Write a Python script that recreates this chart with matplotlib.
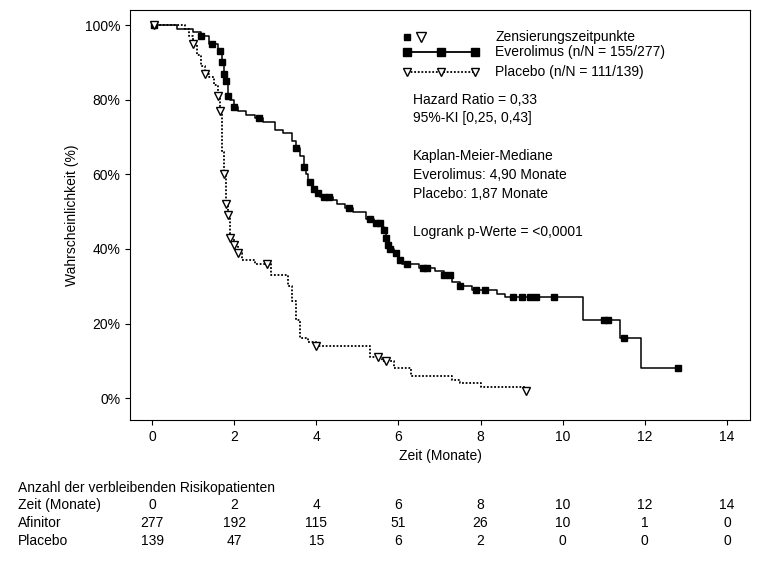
import matplotlib
matplotlib.use('Agg')
import matplotlib.pyplot as plt
import numpy as np

plt.rcParams['font.family'] = ['Liberation Sans', 'DejaVu Sans']
plt.rcParams['font.size'] = 10

# Everolimus step curve (month, survival %)
eve_t = [0, 0.6, 1.0, 1.2, 1.4, 1.6, 1.7, 1.75, 1.8, 1.85, 1.9, 2.0, 2.1, 2.3, 2.5, 2.7, 3.0, 3.2,
         3.4, 3.5, 3.6, 3.7, 3.75, 3.8, 3.9, 4.0, 4.1, 4.4, 4.5, 4.7, 4.9, 5.2, 5.4, 5.6, 5.65,
         5.7, 5.75, 5.8, 5.9, 6.0, 6.1, 6.5, 6.9, 7.1, 7.3, 7.5, 7.8, 8.4, 8.6, 10.5, 11.4, 11.9, 12.8]
eve_s = [100, 99, 98, 97, 95, 93, 90, 87, 85, 81, 80, 78, 77, 76, 75, 74, 72, 71,
         69, 67, 65, 62, 60, 58, 56, 55, 54, 53, 52, 51, 50, 48, 47, 46, 45,
         43, 41, 40, 39, 37, 36, 35, 34, 33, 31, 30, 29, 28, 27, 21, 16, 8, 8]
eve_cens_t = [0.05, 1.2, 1.45, 1.65, 1.7, 1.75, 1.8, 1.85, 2.0, 2.6, 3.5, 3.7, 3.85, 3.95, 4.05, 4.2,
              4.3, 4.8, 5.3, 5.45, 5.55, 5.65, 5.7, 5.75, 5.8, 5.95, 6.05, 6.2, 6.6, 6.7, 7.1, 7.25,
              7.5, 7.9, 8.1, 8.8, 9.0, 9.2, 9.35, 9.8, 11.0, 11.1, 11.5, 12.8]
# Placebo step curve
pla_t = [0, 0.8, 0.9, 1.0, 1.1, 1.2, 1.3, 1.4, 1.5, 1.6, 1.65, 1.7, 1.75, 1.8, 1.85, 1.9, 2.0, 2.1,
         2.2, 2.5, 2.9, 3.3, 3.4, 3.5, 3.6, 3.8, 4.0, 5.3, 5.6, 5.9, 6.3, 7.0, 7.3, 7.5, 8.0, 9.0, 9.1]
pla_s = [100, 99, 97, 95, 92, 89, 87, 86, 84, 81, 77, 66, 60, 52, 49, 43, 41, 39,
         37, 36, 33, 30, 26, 21, 16, 15, 14, 11, 10, 8, 6, 6, 5, 4, 3, 3, 2]
pla_cens_t = [0.05, 1.0, 1.3, 1.6, 1.65, 1.75, 1.8, 1.85, 1.9, 2.0, 2.1, 2.8, 4.0, 5.5, 5.7, 9.1]

ticks_x = [0, 2, 4, 6, 8, 10, 12, 14]
risk_eve = [277, 192, 115, 51, 26, 10, 1, 0]
risk_pla = [139, 47, 15, 6, 2, 0, 0, 0]


def surv_at(t, ts, ss):
    i = np.searchsorted(ts, t, side='right') - 1
    return ss[max(i, 0)]


fig = plt.figure(figsize=(7.66, 5.61), dpi=100)
ax = fig.add_axes([0.170, 0.251, 0.809, 0.731])

ax.step(eve_t, eve_s, where='post', color='black', lw=1.1)
ax.step(pla_t, pla_s, where='post', color='black', lw=1.3, ls=(0, (1, 1)))
ax.plot(eve_cens_t, [surv_at(t, eve_t, eve_s) for t in eve_cens_t], 's', color='black', ms=5)
ax.plot(pla_cens_t, [surv_at(t, pla_t, pla_s) for t in pla_cens_t], 'v', mfc='white',
        mec='black', ms=6)

ax.set_xlim(-0.53, 14.56)
ax.set_ylim(-5.9, 104)
ax.set_xticks(ticks_x)
ax.set_yticks([0, 20, 40, 60, 80, 100])
ax.set_yticklabels(['0%', '20%', '40%', '60%', '80%', '100%'])
ax.set_xlabel('Zeit (Monate)')
ax.set_ylabel('Wahrscheinlichkeit (%)')

# legend
tr = ax.transAxes
def ax_pt(px, py):
    return ((px - 130) / 620, (420 - py) / 410)
x, y = ax_pt(407, 37)
ax.plot([x], [y], 's', color='black', ms=5, transform=tr)
x, y = ax_pt(421, 37)
ax.plot([x], [y], 'v', mfc='white', mec='black', ms=7, transform=tr)
for py, ls, mk, mfc, label in [(52, '-', 's', 'black', 'Everolimus (n/N = 155/277)'),
                              (72, (0, (1, 1)), 'v', 'white', 'Placebo (n/N = 111/139)')]:
    xs = [ax_pt(p, py)[0] for p in (407, 441, 475)]
    yy = ax_pt(407, py)[1]
    ax.plot(xs, [yy] * 3, ls=ls, marker=mk, mfc=mfc, mec='black', color='black', ms=6,
            lw=1.3, transform=tr)
    ax.text(ax_pt(495, py)[0], yy, label, transform=tr, va='center')
ax.text(*ax_pt(495, 37), 'Zensierungszeitpunkte', transform=tr, va='center')

for py, s in [(100, 'Hazard Ratio = 0,33'), (118, '95%-KI [0,25, 0,43]'),
              (156, 'Kaplan-Meier-Mediane'), (175, 'Everolimus: 4,90 Monate'),
              (194, 'Placebo: 1,87 Monate'), (232, 'Logrank p-Werte = <0,0001')]:
    ax.text(*ax_pt(413, py), s, transform=tr, va='center')

# risk table
def fy(py):
    return 1 - py / 561
def fx(t):
    return (152 + t * 41.07) / 766
fig.text(18 / 766, fy(488), 'Anzahl der verbleibenden Risikopatienten', va='center')
for py, name, vals in [(505, 'Zeit (Monate)', ticks_x), (523, 'Afinitor', risk_eve),
                       (541, 'Placebo', risk_pla)]:
    fig.text(18 / 766, fy(py), name, va='center')
    for t, v in zip(ticks_x, vals):
        fig.text(fx(t), fy(py), str(v), va='center', ha='center')

fig.savefig('out.png', dpi=100)
